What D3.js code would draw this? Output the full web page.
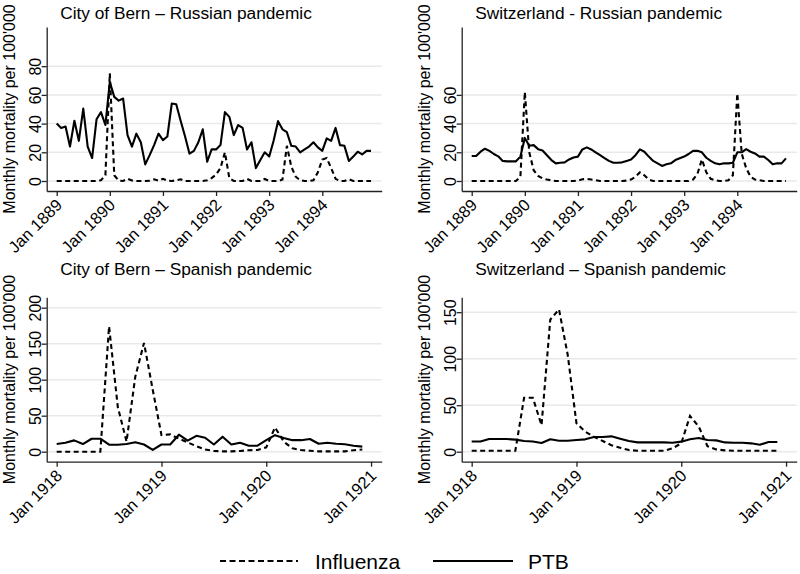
<!DOCTYPE html>
<html><head><meta charset="utf-8">
<script src="https://cdn.jsdelivr.net/npm/d3@7"></script>
<style>
body{margin:0;background:#fff}
svg text{font-family:"Liberation Sans",Arial,sans-serif;fill:#000}
</style>
</head><body>
<svg id="chart" width="800" height="574"></svg>
<script>
// ---------------- DATA ----------------
const russianTickLabels = ["Jan 1889","Jan 1890","Jan 1891","Jan 1892","Jan 1893","Jan 1894"];
const spanishTickLabels = ["Jan 1918","Jan 1919","Jan 1920","Jan 1921"];
const seriesNames = ["Influenza","PTB"];

// City of Bern, Russian pandemic, Jan 1889 - Dec 1894
const bernRussianInfluenza = [
  0,0,0,0,0,0,0,0,0,0,0.5,4,
  75,4,0.3,0,1.5,0.3,0,0,0,0.2,1.2,0.2,
  1.5,0.2,0,0.5,1.2,0,0,0,0,0,0.5,2,
  4.5,9,20,2,0,0,0,1.5,0,0,0,1.4,
  0,0,0,1,24.5,10,3,0.5,0,0,0.5,6,
  15,16,9,1.5,0,0,1.2,0,0,0,0,0];
const bernRussianPTB = [
  40,37,38,24,42,28,50.5,24,16,43,48,39,
  69,58.6,56,57.5,32,24,33,27,11.6,18,25,33,
  28.5,31,54,53.5,42,31,19,21,27,36,13.4,22,
  22,25,48,44.7,32,39,37,22,27,9,14.6,20,
  17,28,41.7,36,34,24.5,24,20,22,24,27,23.4,
  21,29.7,28,37,25,24.5,14,17,20.4,18.5,21,21];

// Switzerland, Russian pandemic
const swissRussianInfluenza = [
  0,0,0,0,0,0,0,0,0,0,0,3,
  62,20,7.5,3.5,1.8,1,0.5,0,0,0,0,0,
  0.3,1.2,1.5,1,0.5,0,0,0,0,0,0,0.3,
  1,3,6,4,1,0,0,0,0,0,0,0,
  0,0,1,5,15,6,1.5,0.5,0,0,0.5,4,
  61,19,9,3,1,0.5,0,0,0,0,0,0];
const swissRussianPTB = [
  17.4,17.4,20.4,22.5,21,18.8,17.2,14,13.7,13.7,13.7,17,
  30,24.6,25,22.2,21.3,18,14.6,12.3,12.7,13,15,16.4,
  17,22,23.4,22,20,18,16,14,12.7,12.7,13,14,
  14.9,18,22,20.4,17,14,12.3,10.5,11.6,12.3,14.6,15.8,
  17,18.8,21,21,20,16.2,14,12.3,11.6,12.3,12.3,12.7,
  20,20,22.2,20.4,19.2,17,17,14.6,11.6,12.3,12.3,15.8];

// City of Bern, Spanish pandemic, Jan 1918 - Dec 1920
const bernSpanishInfluenza = [
  0,0,0,0,0,0,174,62,14,104,151,86,
  23,24,18,13,7.5,3,1,0.5,0.5,1,2,2.3,
  6,33.6,14,4.6,2.3,1.4,0.5,0.5,0.5,0.5,2,3];
const bernSpanishPTB = [
  10.6,12.5,15.7,10.6,18,18,9.7,9.7,10.6,13,10,2.5,
  10,10,23.6,15.3,22,19.4,10,20.8,10,12.5,8.3,8.3,
  16,23,19,16,16,17.6,11,12.5,11,10.4,8.3,7];

// Switzerland, Spanish pandemic
const swissSpanishInfluenza = [
  1,1,1,1,1,1,58,58,28.5,142,153,104,
  30.5,21.6,16,11.5,7,4.3,1.8,1,1,1,1,3.6,
  9,38.5,27,6,2.5,1.4,1,1,1,1,1,1];
const swissSpanishPTB = [
  11,11,13.6,13.6,13.6,13,11.5,11,9.3,13.3,11.8,11.8,
  12.5,13.3,15.8,15.8,16.5,14,11.5,10,10,10,10,9.7,
  10.8,13.3,14.7,12.6,12.2,10,9.7,9.7,9,7.5,10.4,10.4];

const titles = ["City of Bern \u2013 Russian pandemic","Switzerland - Russian pandemic",
                "City of Bern \u2013 Spanish pandemic","Switzerland \u2013 Spanish pandemic"];
const yLabel = "Monthly mortality per 100'000";

// ---------------- LAYOUT ----------------
const svg = d3.select("#chart");
const L = {x0:46.7, x1:381.7}, R = {x0:461.7, x1:796.7};
const T = {top:27, bot:191, title:19}, B = {top:297.3, bot:461.7, title:275};

const panels = [
  {title:titles[0], flu:bernRussianInfluenza, ptb:bernRussianPTB, ticks:russianTickLabels,
   h:L, v:T, xDom:[-2.26,73.42], yDom:[-6.97,107.3], yTicks:[0,20,40,60,80]},
  {title:titles[1], flu:swissRussianInfluenza, ptb:swissRussianPTB, ticks:russianTickLabels,
   h:R, v:T, xDom:[-2.26,73.42], yDom:[-6.97,107.3], yTicks:[0,20,40,60]},
  {title:titles[2], flu:bernSpanishInfluenza, ptb:bernSpanishPTB, ticks:spanishTickLabels,
   h:L, v:B, xDom:[-1.143,37.22], yDom:[-13.9,214.4], yTicks:[0,50,100,150,200]},
  {title:titles[3], flu:swissSpanishInfluenza, ptb:swissSpanishPTB, ticks:spanishTickLabels,
   h:R, v:B, xDom:[-1.143,37.22], yDom:[-10.75,166], yTicks:[0,50,100,150]}
];

panels.forEach(p => {
  const x = d3.scaleLinear().domain(p.xDom).range([p.h.x0, p.h.x1]);
  const y = d3.scaleLinear().domain(p.yDom).range([p.v.bot, p.v.top]);
  const g = svg.append("g");

  // gridlines
  g.selectAll("line.grid").data(p.yTicks).enter().append("line")
    .attr("x1", p.h.x0).attr("x2", p.h.x1)
    .attr("y1", d => y(d)).attr("y2", d => y(d))
    .attr("stroke", "#e9e9e9").attr("stroke-width", 1.5);

  // lines
  const line = d3.line().x((d,i) => x(i)).y(d => y(d));
  g.append("path").datum(p.ptb).attr("d", line)
    .attr("fill","none").attr("stroke","#000").attr("stroke-width",2.1)
    .attr("stroke-linejoin","round");
  g.append("path").datum(p.flu).attr("d", line)
    .attr("fill","none").attr("stroke","#000").attr("stroke-width",2.1)
    .attr("stroke-dasharray","5,3.5");

  // axes
  const tickIdx = p.ticks.map((t,i) => i*12);
  const xa = g.append("g").attr("transform", `translate(0,${p.v.bot})`)
    .call(d3.axisBottom(x).tickValues(tickIdx).tickFormat((d,i) => p.ticks[i]).tickSize(5).tickSizeOuter(0));
  xa.selectAll("text").attr("y",0).attr("dy",0)
    .attr("transform","translate(6,15) rotate(-45)")
    .style("text-anchor","end").style("font-size","16.5px");
  const ya = g.append("g").attr("transform", `translate(${p.h.x0},0)`)
    .call(d3.axisLeft(y).tickValues(p.yTicks).tickSize(5).tickSizeOuter(0));
  ya.selectAll("text").attr("x",0).attr("dy",0)
    .attr("transform","translate(-6,0) rotate(-90)")
    .style("text-anchor","middle").style("font-size","16px");
  [xa, ya].forEach(a => {
    a.select(".domain").attr("stroke","#222").attr("stroke-width",1.3);
    a.selectAll(".tick line").attr("stroke","#222").attr("stroke-width",1.3);
    a.selectAll("text").style("fill","#000");
  });

  // y label
  g.append("text")
    .attr("transform", `translate(${p.h.x0-32},${(p.v.top+p.v.bot)/2}) rotate(-90)`)
    .attr("text-anchor","middle").style("font-size","16px").text(yLabel);
  // title
  g.append("text").attr("x", p.h.x0 + 13.5).attr("y", p.v.title)
    .style("font-size","17.3px").text(p.title);
});

// legend
const leg = svg.append("g");
const legItems = [
  {name:seriesNames[0], dash:"6,3.5", lx0:220, lx1:298, tx:315},
  {name:seriesNames[1], dash:null, lx0:433, lx1:513, tx:528}
];
legItems.forEach(it => {
  leg.append("line").attr("x1",it.lx0).attr("x2",it.lx1).attr("y1",561).attr("y2",561)
    .attr("stroke","#000").attr("stroke-width",2.1)
    .attr("stroke-dasharray", it.dash);
  leg.append("text").attr("x",it.tx).attr("y",569).style("font-size","21px").text(it.name);
});
</script>
</body></html>
